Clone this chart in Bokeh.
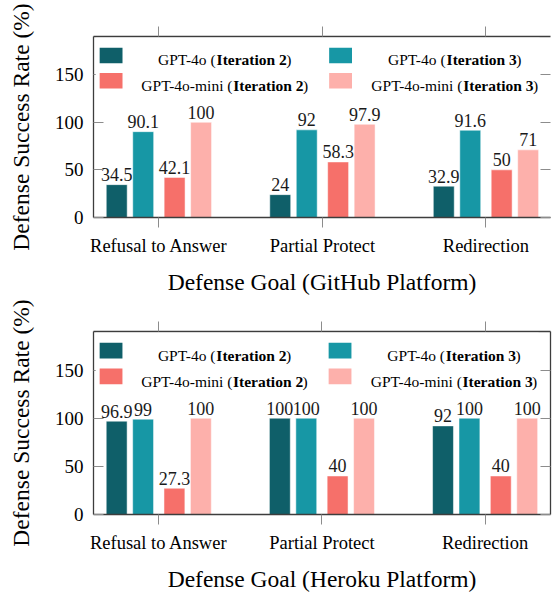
from bokeh.plotting import figure
from bokeh.models import ColumnDataSource, Range1d, FixedTicker, LinearAxis, BoxAnnotation, Label
from bokeh.layouts import column
from bokeh.transform import dodge
from bokeh.core.properties import value
from bokeh.embed import file_html
from bokeh.resources import INLINE

# ---------------- data ----------------
categories = ["Refusal to Answer", "Partial Protect", "Redirection"]
series_models = ["GPT-4o", "GPT-4o", "GPT-4o-mini", "GPT-4o-mini"]
series_iters = ["Iteration 2", "Iteration 3", "Iteration 2", "Iteration 3"]

github_gpt4o_it2 = [34.5, 24, 32.9]
github_gpt4o_it3 = [90.1, 92, 91.6]
github_mini_it2 = [42.1, 58.3, 50]
github_mini_it3 = [100, 97.9, 71]

heroku_gpt4o_it2 = [96.9, 100, 92]
heroku_gpt4o_it3 = [99, 100, 100]
heroku_mini_it2 = [27.3, 40, 40]
heroku_mini_it3 = [100, 100, 100]

y_ticks = [0, 50, 100, 150]
y_max = 190

# ---------------- style ----------------
COLORS = ["#0F5F69", "#1797A5", "#F6706A", "#FDB0AB"]
OFFSETS = [-0.258, -0.096, 0.096, 0.258]
BAR_W = 0.128
SERIF = "Liberation Serif"
PX_PER_X = 164.6
AXIS_COL = "#3d3d3d"
TICK_COL = "#8c8c8c"
LEG_SIZE = 15.5

REG = {'G': 722, 'P': 556, 'T': 611, '-': 333, '4': 500, 'o': 500, ' ': 250,
       '(': 333, ')': 333, 'm': 778, 'i': 278, 'n': 500}
BOLD = {'I': 389, 't': 333, 'e': 444, 'r': 444, 'a': 500, 'i': 278, 'o': 500,
        'n': 556, ' ': 250, '2': 500, '3': 500}


def tw(s, table, size):
    return sum(table.get(c, 500) for c in s) * size / 1000.0


def make_chart(series, xlabel, width, height, mbl, mbr, mbt, mbb, ylab_standoff, right_line):
    fw = width - mbl - mbr
    fh = height - mbt - mbb
    x_end = -0.4 + fw / PX_PER_X
    p = figure(width=width, height=height, output_backend="svg", toolbar_location=None,
               x_range=Range1d(-0.4, x_end), y_range=Range1d(0, y_max),
               min_border_left=mbl, min_border_right=mbr,
               min_border_top=mbt, min_border_bottom=mbb)
    p.outline_line_color = None
    p.xgrid.visible = False
    p.ygrid.visible = False
    p.background_fill_color = "white"
    p.border_fill_color = "white"

    src = ColumnDataSource(dict(idx=list(range(len(categories)))))
    for k, vals in enumerate(series):
        src.data[f"v{k}"] = vals
        src.data[f"l{k}"] = [f"{v:g}" for v in vals]
    for k in range(len(series)):
        xs = dodge("idx", OFFSETS[k], range=p.x_range)
        p.vbar(x=xs, top=f"v{k}", width=BAR_W, bottom=0, source=src,
               fill_color=COLORS[k], line_color="white", line_width=1, line_alpha=0.5)
        p.text(x=xs, y=f"v{k}", text=f"l{k}", source=src, text_align="center",
               text_baseline="alphabetic", y_offset=-10,
               text_font=value(SERIF), text_font_size="18px", text_color="#1a1a1a")

    # bottom axis
    xa = p.xaxis[0]
    xa.ticker = FixedTicker(ticks=list(range(len(categories))))
    xa.major_label_overrides = {i: c for i, c in enumerate(categories)}
    xa.major_tick_out = 10
    xa.major_tick_in = 0
    xa.minor_tick_out = 0
    xa.minor_tick_in = 0
    xa.major_tick_line_color = TICK_COL
    xa.axis_line_color = AXIS_COL
    xa.axis_line_width = 1.3
    xa.major_label_text_font = SERIF
    xa.major_label_text_font_size = "18.5px"
    xa.major_label_text_color = "black"
    xa.major_label_standoff = 8
    xa.axis_label = xlabel
    xa.axis_label_text_font = SERIF
    xa.axis_label_text_font_size = "23.5px"
    xa.axis_label_text_font_style = "normal"
    xa.axis_label_text_color = "black"
    xa.axis_label_standoff = 10

    # left axis
    ya = p.yaxis[0]
    ya.ticker = FixedTicker(ticks=y_ticks)
    ya.major_tick_in = 10
    ya.major_tick_out = 0
    ya.minor_tick_out = 0
    ya.minor_tick_in = 0
    ya.major_tick_line_color = TICK_COL
    ya.axis_line_color = AXIS_COL
    ya.axis_line_width = 1.3
    ya.major_label_text_font = SERIF
    ya.major_label_text_font_size = "19px"
    ya.major_label_text_color = "black"
    ya.major_label_standoff = 10
    ya.axis_label = "Defense Success Rate (%)"
    ya.axis_label_text_font = SERIF
    ya.axis_label_text_font_size = "23.5px"
    ya.axis_label_text_font_style = "normal"
    ya.axis_label_text_color = "black"
    ya.axis_label_standoff = ylab_standoff

    # top axis (ticks only, no labels)
    top = LinearAxis(ticker=FixedTicker(ticks=list(range(len(categories)))),
                     major_tick_out=10, major_tick_in=0, minor_tick_out=0, minor_tick_in=0,
                     major_tick_line_color=TICK_COL, axis_line_color=AXIS_COL, axis_line_width=1.3,
                     major_label_text_color=None, major_label_text_font_size="1px",
                     major_label_standoff=0)
    p.add_layout(top, "above")
    # right axis (ticks only, no labels)
    right = LinearAxis(ticker=FixedTicker(ticks=y_ticks),
                       major_tick_out=0, major_tick_in=10, minor_tick_out=0, minor_tick_in=0,
                       major_tick_line_color=TICK_COL,
                       axis_line_color=AXIS_COL if right_line else None, axis_line_width=1.3,
                       major_label_text_color=None, major_label_text_font_size="1px",
                       major_label_standoff=0)
    p.add_layout(right, "right")

    # legend (drawn manually, centered entries with bold iteration text)
    ppy = fh / y_max

    def fx(px):
        return -0.4 + px / PX_PER_X

    def fy(py):
        return y_max - py / ppy

    p.add_layout(BoxAnnotation(left=fx(2.2), right=fx(449), top=fy(1.3), bottom=fy(59),
                               fill_color="white", fill_alpha=1, line_color=None))
    sw_x = [6.2, 237.2]
    row_top = [11.3, 37.0]
    text_cx = [132.1, 363.6]
    baselines = [23.6, 49.6]
    for k in range(len(series_models)):
        col, row = k % 2, k // 2
        p.add_layout(BoxAnnotation(left=fx(sw_x[col]), right=fx(sw_x[col] + 23),
                                   top=fy(row_top[row]), bottom=fy(row_top[row] + 15.7),
                                   fill_color=COLORS[k], fill_alpha=1, line_color=None))
        a = series_models[k] + " ("
        b = series_iters[k]
        c = ")"
        wa, wb, wc = tw(a, REG, LEG_SIZE), tw(b, BOLD, LEG_SIZE), tw(c, REG, LEG_SIZE)
        start = text_cx[col] - (wa + wb + wc) / 2
        yb = fy(baselines[row])
        for txt, off, st in ((a, 0, "normal"), (b, wa, "bold"), (c, wa + wb, "normal")):
            p.add_layout(Label(x=fx(start + off), y=yb, text=txt, text_align="left",
                               text_baseline="alphabetic", text_font=SERIF,
                               text_font_size=f"{LEG_SIZE}px", text_font_style=st,
                               text_color="black"))
    return p


github = [github_gpt4o_it2, github_gpt4o_it3, github_mini_it2, github_mini_it3]
heroku = [heroku_gpt4o_it2, heroku_gpt4o_it3, heroku_mini_it2, heroku_mini_it3]

p1 = make_chart(github, "Defense Goal (GitHub Platform)", 553, 297, 93, 0, 36, 78, 18, False)
p2 = make_chart(heroku, "Defense Goal (Heroku Platform)", 553, 297, 89, 3, 34, 80, 18, True)

layout = column(p1, p2, spacing=0)
open("out.html", "w").write(file_html(layout, INLINE))
